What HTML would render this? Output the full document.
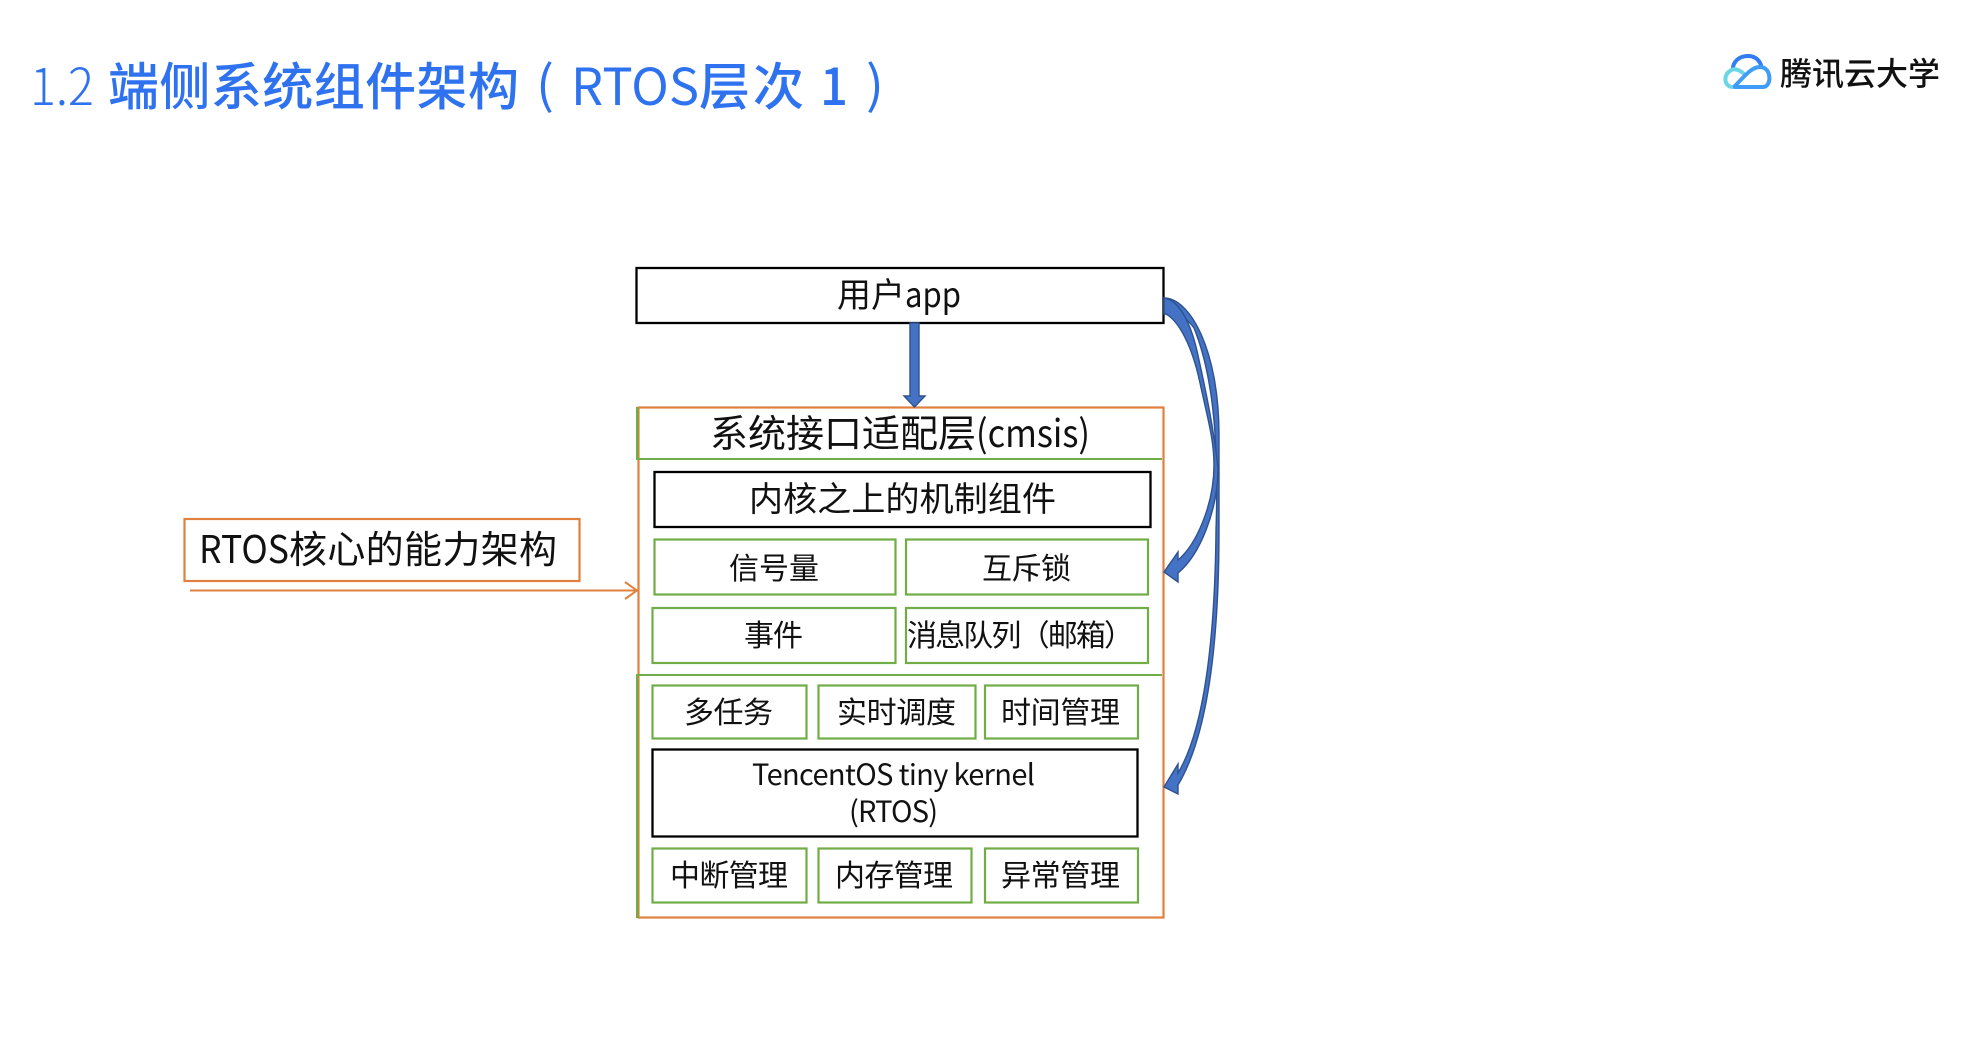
<!DOCTYPE html>
<html lang="zh-CN">
<head>
<meta charset="utf-8">
<title>1.2 端侧系统组件架构（RTOS层次 1）</title>
<style>
html,body{margin:0;padding:0;background:#fff;width:1964px;height:1052px;overflow:hidden}
svg{display:block}
text{font-family:"Noto Sans CJK SC","Liberation Sans",sans-serif;fill:#111;font-weight:400}
.t{fill:#2e72f0;font-size:51px}
.h{font-weight:500}
.l{font-weight:300}
.m{text-anchor:start}
.g{fill:#fff;stroke:#70ad47;stroke-width:2.2}
.k{fill:#fff;stroke:#000;stroke-width:2.3}
.o{fill:#fff;stroke:#e0803f;stroke-width:2.2}
.b{fill:#4472c4;stroke:#2f528f;stroke-width:1.4;stroke-linejoin:miter}
</style>
</head>
<body>
<svg width="1964" height="1052" viewBox="0 0 1964 1052" xmlns="http://www.w3.org/2000/svg">
<rect width="1964" height="1052" fill="#fff"/>

<!-- Title -->
<text class="t l" x="30" y="105" textLength="64" lengthAdjust="spacingAndGlyphs">1.2</text>
<text class="t h" x="108" y="105" textLength="411" lengthAdjust="spacing">端侧系统组件架构</text>
<text class="t" x="536" y="103" textLength="18" lengthAdjust="spacingAndGlyphs">(</text>
<text class="t" x="571" y="105" textLength="128" lengthAdjust="spacingAndGlyphs">RTOS</text>
<text class="t h" x="699" y="105" textLength="105" lengthAdjust="spacing">层次</text>
<text class="t h" x="820" y="105" textLength="28" lengthAdjust="spacingAndGlyphs">1</text>
<text class="t" x="866" y="103" textLength="18" lengthAdjust="spacingAndGlyphs">)</text>

<!-- Logo -->
<g fill="none" stroke-width="4" stroke-linecap="round">
<path d="M1733 67 C1735 58 1743 56 1748 56 C1755 56 1759 60 1761 65" stroke="#2f7ef5"/>
<path d="M1743 73 C1738 69 1733 68 1730 71 C1723 75 1724 87 1733 87" stroke="#6ad5e5"/>
<path d="M1735 87 L1763 87 C1772 87 1772 67 1760 67 C1753 67 1748 72 1735 86" stroke="#3f9cf9"/>
</g>
<text x="1780" y="85" font-size="32" textLength="160" lengthAdjust="spacing" style="font-weight:500;fill:#111">腾讯云大学</text>

<!-- RTOS label -->
<rect class="o" x="184.5" y="519" width="395" height="62"/>
<text class="m" x="199" y="563" font-size="38" textLength="90" lengthAdjust="spacingAndGlyphs">RTOS</text>
<text class="m" x="289" y="563" font-size="38" textLength="268" lengthAdjust="spacing">核心的能力架构</text>
<path d="M190 590.5 H637 M625 582 L637 590.5 L625 599" fill="none" stroke="#e0803f" stroke-width="2"/>

<!-- Outer -->
<rect class="o" x="638.5" y="407.5" width="525" height="510"/>
<rect x="636" y="407" width="2.5" height="52" fill="#70ad47"/>
<rect x="636" y="675" width="2.5" height="243" fill="#70ad47"/>
<rect x="636" y="458" width="526" height="2" fill="#70ad47"/>
<rect x="636" y="674" width="526" height="2" fill="#70ad47"/>

<!-- User app -->
<rect class="k" x="636.5" y="268" width="527" height="55"/>
<text class="m" x="837" y="307" font-size="34" textLength="68" lengthAdjust="spacing">用户</text>
<text class="m" x="905" y="307" font-size="34" textLength="56" lengthAdjust="spacingAndGlyphs">app</text>

<text class="m" x="710" y="447" font-size="38" textLength="266" lengthAdjust="spacing">系统接口适配层</text>
<text class="m" x="976" y="447" font-size="38" textLength="114" lengthAdjust="spacingAndGlyphs">(cmsis)</text>

<rect class="k" x="654.5" y="472" width="496" height="55"/>
<text class="m" x="749" y="511" font-size="34" textLength="307" lengthAdjust="spacing">内核之上的机制组件</text>

<rect class="g" x="654.5" y="539.5" width="241" height="55"/>
<text class="m" x="729" y="579" font-size="30" textLength="90" lengthAdjust="spacing">信号量</text>
<rect class="g" x="906" y="539.5" width="242" height="55"/>
<text class="m" x="982" y="579" font-size="30" textLength="89" lengthAdjust="spacing">互斥锁</text>

<rect class="g" x="652.5" y="608" width="243" height="55"/>
<text class="m" x="744" y="646" font-size="30" textLength="59" lengthAdjust="spacing">事件</text>
<rect class="g" x="906" y="608" width="242" height="55"/>
<text class="m" x="907" y="646" font-size="30" textLength="227" lengthAdjust="spacing">消息队列（邮箱）</text>

<rect class="g" x="652.5" y="685.5" width="154" height="53"/>
<text class="m" x="684" y="723" font-size="30" textLength="89" lengthAdjust="spacing">多任务</text>
<rect class="g" x="818.5" y="685.5" width="157" height="53"/>
<text class="m" x="837" y="723" font-size="30" textLength="119" lengthAdjust="spacing">实时调度</text>
<rect class="g" x="985" y="685.5" width="153" height="53"/>
<text class="m" x="1001" y="723" font-size="30" textLength="119" lengthAdjust="spacing">时间管理</text>

<rect class="k" x="652.5" y="749.5" width="485" height="87"/>
<text class="m" x="752" y="785" font-size="29" textLength="283" lengthAdjust="spacing">TencentOS tiny kernel</text>
<text class="m" x="849" y="822" font-size="29" textLength="89" lengthAdjust="spacing">(RTOS)</text>

<rect class="g" x="652.5" y="848.5" width="154" height="54"/>
<text class="m" x="670" y="886" font-size="30" textLength="118" lengthAdjust="spacing">中断管理</text>
<rect class="g" x="818.5" y="848.5" width="153" height="54"/>
<text class="m" x="835" y="886" font-size="30" textLength="118" lengthAdjust="spacing">内存管理</text>
<rect class="g" x="985" y="848.5" width="153" height="54"/>
<text class="m" x="1001" y="886" font-size="30" textLength="119" lengthAdjust="spacing">异常管理</text>

<!-- Arrows -->
<path class="b" d="M910 323 H919 V396 H925 L914.5 407 L904 396 H910 Z"/>
<path class="b" d="M1164 298 C1190 298,1219 350,1219 435 L1219 530 C1219 640,1208 735,1178 785 L1178 794 L1164 787 L1178 764 L1178 773 C1204 730,1215 640,1216 530 C1219 440,1213 375,1194 328 C1184 314,1175 314,1164 314 Z"/>
<path class="b" d="M1164 298 C1180 300,1192 325,1199 360 C1206 392,1214 430,1218 468 C1218 510,1200 555,1178 573 L1178 582 L1164 572 L1178 552 L1178 560 C1196 545,1214 505,1214 465 C1214 440,1208 420,1200 383 C1193 350,1180 320,1164 313 Z"/>
</svg>
</body>
</html>
